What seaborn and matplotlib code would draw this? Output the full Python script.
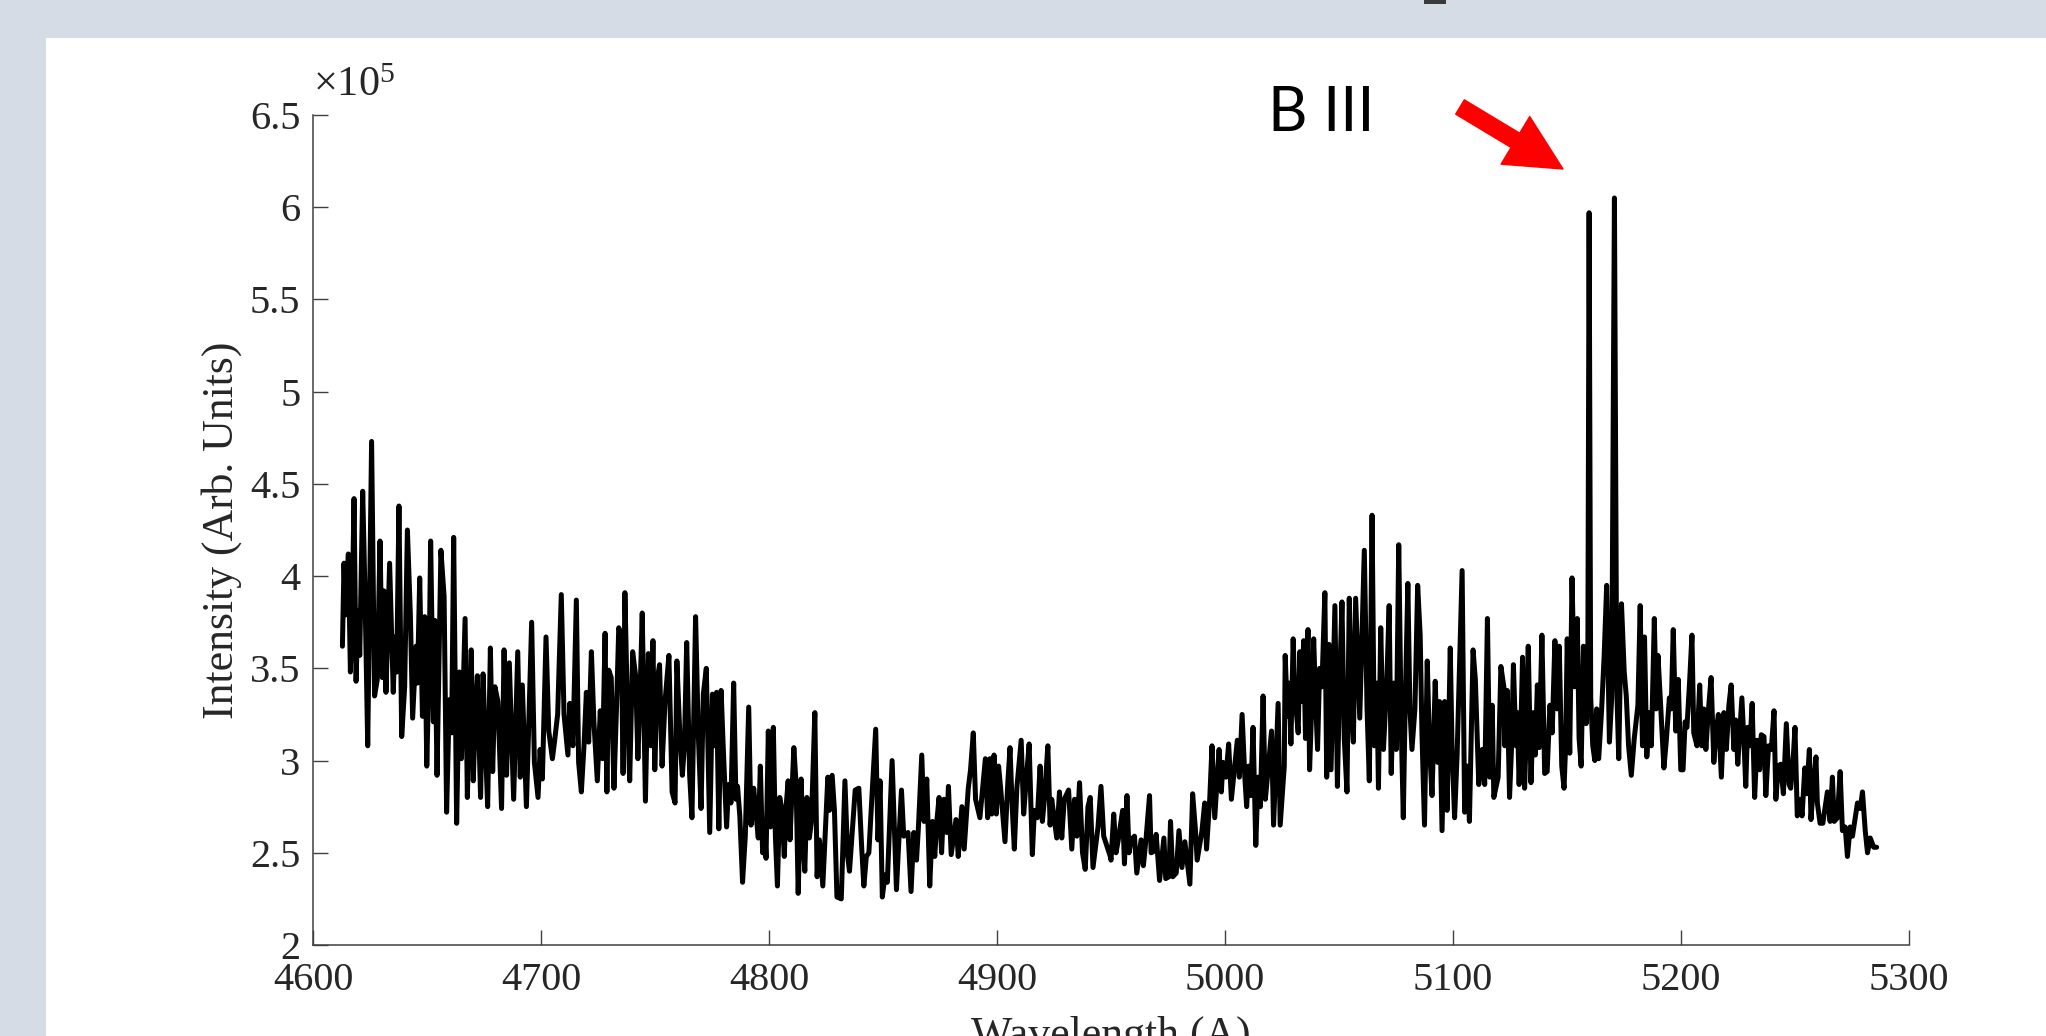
import numpy as np
import pandas as pd
import matplotlib
matplotlib.use("Agg")
import matplotlib.pyplot as plt
from matplotlib.patches import Rectangle
from matplotlib.ticker import FuncFormatter
import seaborn as sns

# Spectrum: (wavelength in A, intensity in units of 1e5)
seg_4600 = [(4612.9, 3.62), (4613.6, 4.07), (4614.3, 3.79), (4615.5, 4.12), (4616.4, 3.48), (4617.0, 3.69),
            (4618.0, 4.42), (4618.9, 3.43), (4619.7, 3.81), (4620.5, 3.57), (4621.8, 4.46), (4622.8, 3.91),
            (4624.0, 3.08), (4625.7, 4.73), (4627.0, 3.35), (4628.2, 3.44), (4629.4, 4.19), (4630.4, 3.45),
            (4631.1, 3.92), (4632.0, 3.37), (4633.6, 4.07), (4635.2, 3.37), (4636.0, 3.67), (4636.7, 3.48),
            (4637.7, 4.38), (4638.9, 3.13), (4640.2, 3.40), (4641.4, 4.25), (4642.7, 3.79), (4643.7, 3.23),
            (4645.2, 3.62), (4645.8, 3.42), (4646.8, 3.99), (4648.0, 3.24), (4649.0, 3.78), (4649.9, 2.97),
            (4650.9, 3.50), (4651.6, 4.19), (4652.8, 3.21), (4653.4, 3.76), (4654.4, 2.92), (4656.1, 4.14),
            (4657.5, 3.89), (4658.6, 2.72), (4659.8, 3.33), (4660.8, 3.15), (4661.7, 4.21), (4663.0, 2.66),
            (4664.2, 3.48), (4665.1, 3.01), (4666.7, 3.77), (4667.7, 2.80), (4668.6, 3.24), (4669.4, 3.60),
            (4670.3, 2.89), (4671.3, 3.28), (4672.1, 3.46), (4673.5, 2.80), (4674.6, 3.47), (4675.4, 3.16),
            (4676.6, 2.75), (4677.8, 3.61), (4678.8, 2.94), (4679.8, 3.40), (4681.1, 3.32), (4682.7, 2.74),
            (4683.8, 3.60), (4684.9, 2.92), (4686.1, 3.53), (4688.0, 2.79), (4689.8, 3.59), (4690.9, 2.91),
            (4691.8, 3.41), (4693.6, 2.75), (4695.9, 3.75), (4697.1, 2.99), (4698.7, 2.80), (4699.6, 3.06),
            (4700.6, 2.90), (4702.2, 3.67), (4703.4, 3.16), (4705.0, 3.01), (4706.0, 3.11), (4707.3, 3.25),
            (4708.9, 3.90), (4710.1, 3.25), (4711.8, 3.03), (4712.6, 3.31), (4714.0, 3.08), (4715.5, 3.87),
            (4716.5, 2.99), (4717.7, 2.83), (4718.9, 3.09), (4719.9, 3.37), (4720.9, 3.10), (4722.1, 3.59),
            (4723.2, 3.21), (4724.7, 2.89), (4726.0, 3.27), (4727.0, 3.01), (4728.1, 3.69), (4728.9, 2.83),
            (4729.7, 3.49), (4730.8, 3.45), (4732.0, 2.85), (4733.2, 3.32), (4734.1, 3.72), (4735.2, 3.67),
            (4736.0, 2.93), (4736.8, 3.91), (4737.9, 3.28), (4738.9, 2.89), (4740.2, 3.59), (4741.5, 3.46),
            (4742.5, 3.01), (4743.4, 3.34), (4744.4, 3.80), (4745.8, 2.78), (4747.1, 3.58), (4748.2, 3.08),
            (4749.1, 3.65), (4749.9, 2.95), (4751.0, 3.44), (4752.0, 3.52), (4753.1, 2.97), (4754.4, 3.32),
            (4756.1, 3.57), (4757.5, 2.83), (4758.8, 2.77), (4759.6, 3.54), (4761.0, 3.11), (4762.0, 2.92),
            (4762.9, 3.08), (4763.9, 3.64), (4765.2, 2.92), (4766.2, 2.69), (4767.8, 3.78), (4769.0, 3.14),
            (4770.2, 2.74), (4771.2, 3.36), (4772.5, 3.50), (4774.0, 2.61)]

seg_4775 = [(4775.2, 3.36), (4776.2, 3.08), (4777.0, 3.37), (4778.0, 2.63), (4779.0, 3.38), (4779.9, 3.08),
            (4781.4, 2.64), (4782.3, 2.87), (4783.3, 2.77), (4784.5, 3.42), (4785.5, 2.79), (4786.2, 2.86),
            (4787.2, 2.70), (4788.4, 2.34), (4789.6, 2.59), (4791.1, 3.29), (4792.1, 2.65), (4793.3, 2.85),
            (4794.3, 2.71), (4795.3, 2.58), (4796.2, 2.97), (4797.2, 2.50), (4798.1, 2.63), (4798.7, 2.47),
            (4799.7, 3.16), (4800.7, 2.64), (4801.9, 3.18), (4802.8, 2.59), (4803.7, 2.32), (4804.7, 2.80),
            (4805.7, 2.73), (4806.7, 2.48), (4807.5, 2.75), (4808.4, 2.89), (4809.2, 2.57), (4810.9, 3.07),
            (4811.9, 2.87), (4812.8, 2.28), (4814.1, 2.90), (4814.8, 2.59), (4815.7, 2.40), (4816.6, 2.80),
            (4817.7, 2.58), (4818.6, 2.67), (4820.1, 3.26), (4821.1, 2.37), (4822.1, 2.57), (4823.6, 2.32),
            (4825.8, 2.91), (4826.5, 2.73), (4827.7, 2.92), (4828.7, 2.73), (4829.8, 2.26), (4831.7, 2.25),
            (4833.3, 2.89), (4834.5, 2.48), (4835.3, 2.40), (4837.8, 2.84), (4839.4, 2.85), (4840.6, 2.54),
            (4841.6, 2.32), (4842.7, 2.48), (4843.8, 2.50), (4844.9, 2.75), (4846.8, 3.17), (4847.8, 2.57),
            (4848.7, 2.89), (4849.7, 2.26), (4850.9, 2.38), (4851.9, 2.34), (4854.0, 3.00), (4855.9, 2.30),
            (4856.6, 2.48), (4858.1, 2.84), (4859.1, 2.59), (4861.0, 2.61), (4862.3, 2.29), (4863.5, 2.61),
            (4864.7, 2.46), (4865.5, 2.63), (4867.0, 3.03), (4868.0, 2.67), (4869.2, 2.90), (4870.5, 2.32),
            (4871.7, 2.67), (4872.7, 2.48), (4873.6, 2.67), (4874.6, 2.80), (4875.7, 2.50), (4876.7, 2.79),
            (4877.9, 2.61), (4878.7, 2.86), (4879.9, 2.49), (4882.0, 2.68), (4883.0, 2.48), (4884.6, 2.75),
            (4885.6, 2.52), (4887.4, 2.85), (4888.4, 2.95), (4889.6, 3.15), (4890.6, 2.79), (4892.5, 2.69),
            (4894.9, 3.01), (4895.9, 2.69), (4896.9, 3.01), (4897.7, 2.71), (4898.7, 3.03), (4899.7, 2.71),
            (4900.7, 2.97), (4901.6, 2.85), (4903.5, 2.56), (4904.7, 2.87), (4905.7, 3.07), (4906.7, 2.74),
            (4907.6, 2.52), (4908.7, 2.85), (4910.6, 3.11), (4911.7, 2.71), (4912.8, 2.89), (4914.1, 3.09),
            (4915.5, 2.49), (4916.4, 2.73), (4917.7, 2.69), (4918.9, 2.97), (4919.9, 2.67), (4920.8, 2.79),
            (4922.3, 3.08), (4923.3, 2.65), (4924.0, 2.79), (4926.2, 2.58), (4927.4, 2.83), (4928.4, 2.58),
            (4929.5, 2.79), (4931.4, 2.84), (4932.8, 2.52), (4934.0, 2.79), (4935.0, 2.59), (4936.2, 2.88),
            (4937.5, 2.50), (4938.7, 2.41), (4939.9, 2.75), (4940.9, 2.80), (4942.1, 2.42), (4944.3, 2.64),
            (4945.6, 2.86), (4946.8, 2.59), (4949.7, 2.48)]

seg_4950 = [(4950.0, 2.46), (4951.2, 2.71), (4952.2, 2.50), (4953.2, 2.57), (4955.1, 2.73), (4955.9, 2.44),
            (4957.0, 2.81), (4957.9, 2.50), (4958.8, 2.57), (4960.3, 2.59), (4961.3, 2.39), (4963.2, 2.57),
            (4964.2, 2.43), (4965.4, 2.58), (4966.9, 2.81), (4967.6, 2.50), (4969.1, 2.51), (4969.8, 2.60),
            (4971.3, 2.35), (4973.2, 2.58), (4974.0, 2.36), (4975.4, 2.37), (4976.1, 2.67), (4977.1, 2.37),
            (4978.6, 2.39), (4979.8, 2.62), (4981.1, 2.42), (4982.4, 2.56), (4984.6, 2.33), (4985.8, 2.82),
            (4987.0, 2.63), (4987.8, 2.46), (4989.9, 2.62), (4991.1, 2.77), (4991.9, 2.52), (4993.3, 2.79),
            (4994.3, 3.08), (4995.5, 2.69), (4997.4, 3.06), (4998.4, 2.83), (4999.1, 2.99), (5000.4, 2.91),
            (5001.6, 3.09), (5002.8, 2.79), (5005.4, 3.11), (5006.3, 2.91), (5007.5, 3.25), (5008.7, 2.91),
            (5009.5, 2.75), (5010.4, 2.97), (5011.3, 2.81), (5012.3, 3.18), (5013.5, 2.54), (5014.5, 2.91),
            (5015.5, 2.75), (5016.7, 3.35), (5017.7, 2.79), (5018.9, 2.95), (5020.4, 3.16), (5021.3, 2.65),
            (5023.3, 3.31), (5024.2, 2.65), (5026.0, 2.97), (5026.4, 3.57), (5027.4, 3.24), (5028.2, 3.42),
            (5028.9, 3.09), (5029.9, 3.66), (5030.6, 3.36), (5032.1, 3.15), (5032.8, 3.59), (5033.6, 3.32),
            (5034.5, 3.65), (5035.3, 3.12), (5036.4, 3.71), (5037.1, 2.95), (5038.0, 3.28), (5038.9, 3.66),
            (5039.7, 3.34), (5040.6, 3.06), (5041.5, 3.50), (5042.5, 3.40), (5043.8, 3.91), (5044.6, 2.91),
            (5045.6, 3.63), (5046.5, 2.95), (5048.2, 3.84), (5049.3, 2.86), (5050.1, 3.34), (5051.3, 3.86),
            (5052.3, 3.12), (5053.5, 2.83), (5054.5, 3.88), (5055.7, 3.22), (5056.3, 3.10), (5057.3, 3.88),
            (5059.1, 3.23), (5061.1, 4.14), (5062.3, 3.28), (5063.3, 2.89), (5064.5, 4.33), (5065.5, 3.08),
            (5066.6, 3.42), (5067.3, 2.85), (5068.3, 3.72), (5069.5, 3.06), (5071.0, 3.44), (5072.0, 3.84),
            (5072.9, 2.93), (5074.0, 3.42), (5075.1, 3.06), (5076.2, 4.17), (5077.3, 3.18), (5078.2, 2.69),
            (5079.0, 3.28), (5080.2, 3.96), (5081.1, 3.28), (5082.0, 3.06), (5083.3, 3.28), (5084.5, 3.95),
            (5085.6, 3.68), (5086.4, 3.14), (5087.5, 2.65), (5088.7, 3.54), (5089.7, 3.08), (5090.8, 2.81),
            (5092.2, 3.43), (5093.3, 2.99), (5094.1, 3.32), (5095.2, 2.62), (5096.3, 3.32), (5097.4, 2.73),
            (5098.8, 3.61), (5099.6, 3.06), (5100.7, 2.69), (5101.8, 3.03), (5104.0, 4.03), (5105.1, 2.72),
            (5106.2, 2.97), (5107.2, 2.67), (5108.8, 3.60), (5109.8, 3.44), (5111.3, 2.87), (5112.8, 3.06),
            (5113.9, 2.87), (5115.1, 3.77), (5116.1, 2.91), (5117.2, 3.30), (5117.9, 2.80), (5119.8, 2.91),
            (5121.0, 3.51), (5122.3, 3.40)]

seg_5120 = [(5122.7, 3.08), (5123.8, 3.38), (5124.8, 2.80), (5125.7, 3.08), (5126.5, 3.52), (5127.6, 3.08),
            (5128.2, 3.26), (5129.0, 2.87), (5129.9, 3.24), (5130.5, 3.56), (5131.4, 2.85), (5132.3, 3.22),
            (5133.0, 3.62), (5134.2, 2.88), (5135.2, 3.26), (5136.1, 3.03), (5137.0, 3.41), (5137.8, 3.07),
            (5139.0, 3.68), (5140.2, 2.93), (5141.3, 2.94), (5142.5, 3.30), (5143.5, 3.15), (5144.7, 3.65),
            (5145.7, 3.28), (5146.6, 3.62), (5147.7, 2.97), (5148.7, 2.85), (5149.4, 3.08), (5150.1, 3.66),
            (5151.2, 3.04), (5152.2, 3.99), (5153.2, 3.40), (5154.5, 3.77), (5155.3, 3.12), (5156.2, 2.97),
            (5157.2, 3.62), (5158.4, 3.20), (5159.1, 3.38), (5159.7, 5.97), (5160.4, 3.34), (5161.3, 3.08),
            (5162.2, 3.00), (5163.0, 3.28), (5163.9, 3.01), (5165.2, 3.28), (5166.3, 3.57), (5167.4, 3.95),
            (5168.6, 3.10), (5169.6, 3.34), (5170.8, 6.05), (5171.8, 3.40), (5172.7, 3.01), (5173.9, 3.85),
            (5175.1, 3.48), (5176.0, 3.35), (5177.0, 3.08), (5178.2, 2.92), (5179.5, 3.12), (5181.1, 3.30),
            (5182.1, 3.84), (5183.1, 3.08), (5184.0, 3.67), (5185.0, 3.02), (5186.1, 3.26), (5187.0, 3.08),
            (5188.3, 3.77), (5189.1, 3.28), (5189.9, 3.57), (5190.9, 3.34), (5191.8, 3.12), (5192.5, 2.96),
            (5193.5, 3.10), (5194.9, 3.34), (5195.7, 3.28), (5196.6, 3.71), (5197.7, 3.16), (5198.8, 3.44),
            (5199.9, 2.95), (5200.9, 2.95), (5201.8, 3.21), (5202.6, 3.18), (5203.7, 3.41), (5204.8, 3.68),
            (5205.6, 3.15), (5207.0, 3.08), (5208.2, 3.41), (5209.1, 3.08), (5210.0, 3.28), (5210.9, 3.06),
            (5212.0, 3.27), (5213.2, 3.45), (5214.4, 2.99), (5215.4, 3.16), (5216.4, 3.25), (5217.7, 2.91),
            (5218.8, 3.26), (5219.9, 3.06), (5221.0, 3.30), (5222.0, 3.41), (5223.2, 3.06), (5224.0, 3.22),
            (5224.9, 2.98), (5225.8, 3.16), (5226.7, 3.34), (5227.7, 3.08), (5228.4, 2.86), (5229.2, 3.18),
            (5230.2, 3.08), (5231.2, 3.31), (5232.3, 2.80), (5233.4, 3.11), (5234.5, 2.95), (5235.2, 3.14),
            (5236.4, 3.13), (5237.2, 2.81), (5238.4, 3.08), (5239.6, 3.06), (5240.8, 3.27), (5241.6, 2.79),
            (5242.7, 2.97), (5243.7, 2.98), (5244.9, 2.82), (5246.2, 3.20), (5247.4, 2.87), (5248.1, 2.85),
            (5249.3, 3.03), (5250.0, 3.18), (5251.0, 2.70), (5252.2, 2.79), (5253.1, 2.70), (5254.3, 2.96),
            (5255.1, 2.82), (5256.3, 3.06), (5257.0, 2.68), (5258.1, 2.87), (5259.2, 3.02), (5259.8, 2.77),
            (5261.0, 2.66), (5262.2, 2.66), (5263.5, 2.77), (5264.2, 2.83), (5265.4, 2.67), (5266.4, 2.91),
            (5267.2, 2.67), (5268.6, 2.69), (5269.8, 2.94), (5270.8, 2.62), (5272.0, 2.64), (5273.0, 2.48),
            (5274.2, 2.64), (5275.2, 2.59), (5276.4, 2.69), (5277.4, 2.77), (5278.6, 2.74), (5279.6, 2.83),
            (5280.8, 2.62), (5281.8, 2.50), (5283.0, 2.58), (5284.5, 2.53), (5285.8, 2.53)]

x_ticks = [4600, 4700, 4800, 4900, 5000, 5100, 5200, 5300]
y_ticks = [2, 2.5, 3, 3.5, 4, 4.5, 5, 5.5, 6, 6.5]
label_text = "B III"

spec = pd.DataFrame(seg_4600 + seg_4775 + seg_4950 + seg_5120, columns=["wavelength", "intensity"])
spec["intensity"] = spec["intensity"] * 1e5

sns.set_style("white")
plt.rcParams["font.family"] = ["Liberation Serif", "DejaVu Serif"]
plt.rcParams["mathtext.fontset"] = "custom"
plt.rcParams["mathtext.rm"] = "Liberation Serif"
plt.rcParams["mathtext.it"] = "Liberation Serif:italic"

W, H = 2046, 1036
fig = plt.figure(figsize=(W / 100, H / 100), dpi=100, facecolor="#D6DCE5")
# white slide area and the small mark at the top edge, kept behind the axes
fig.patches.append(Rectangle((46 / W, 0), 1, 998 / H, transform=fig.transFigure,
                             facecolor="white", edgecolor="none", zorder=-5))
fig.patches.append(Rectangle((1424 / W, 1032 / H), 22 / W, 4 / H, transform=fig.transFigure,
                             facecolor="#3a3a3a", edgecolor="none", zorder=-5))

ax = fig.add_axes([313 / W, 91 / H, 1596 / W, 830 / H])
ax.set_zorder(2)
ax.set_facecolor("none")
sns.lineplot(data=spec, x="wavelength", y="intensity", ax=ax, color="black",
             linewidth=3.6, estimator=None, sort=False)

ax.set_xlim(4600, 5300)
ax.set_ylim(2e5, 6.5e5)
ax.set_xticks(x_ticks)
ax.set_yticks([v * 1e5 for v in y_ticks])
ax.yaxis.set_major_formatter(FuncFormatter(lambda v, p: f"{v / 1e5:g}"))
for side in ["top", "right"]:
    ax.spines[side].set_visible(False)
for side in ["left", "bottom"]:
    ax.spines[side].set_color("#404040")
    ax.spines[side].set_linewidth(1.1)
ax.tick_params(bottom=True, left=True, top=False, right=False, direction="in",
               length=10.5, width=1, color="#404040",
               labelcolor="#262626", labelsize=29)
ax.tick_params(axis="x", pad=12)
ax.tick_params(axis="y", pad=9)

ax.text(0, 1.012, r"$\times10^{5}$", transform=ax.transAxes, ha="left", va="bottom",
        fontsize=30.5, color="#262626")
ax.set_xlabel("Wavelength (A)", fontsize=31.5, color="#262626", labelpad=12)
ax.set_ylabel("Intensity (Arb. Units)", fontsize=31.5, color="#262626", labelpad=6)

fig.text(1268 / W, 905 / H, label_text, fontsize=44, family="Lato",
         ha="left", va="baseline", color="black", zorder=5)
ax.annotate("", xy=(1563 / W, 867 / H), xycoords="figure fraction",
            xytext=(1460 / W, 929 / H), textcoords="figure fraction",
            arrowprops=dict(arrowstyle="simple,head_length=1.0,head_width=1.0,tail_width=0.3",
                            color="red", shrinkA=0, shrinkB=0, mutation_scale=40),
            annotation_clip=False)

plt.savefig("out.png", dpi=100, facecolor=fig.get_facecolor())
